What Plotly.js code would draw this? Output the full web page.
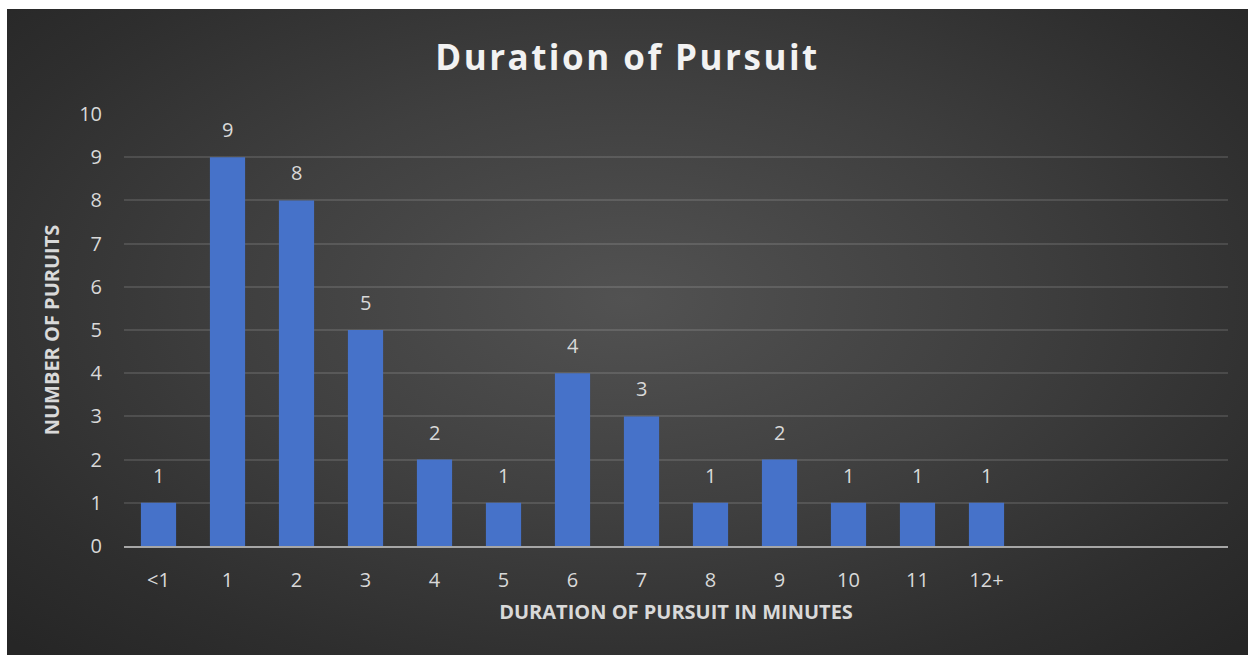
<!DOCTYPE html>
<html>
<head>
<meta charset="utf-8">
<script src="https://cdn.plot.ly/plotly-3.0.1.min.js"></script>
<style>
  html, body { margin: 0; padding: 0; background: #ffffff; width: 1248px; height: 655px; overflow: hidden; }
  #chart {
    position: absolute; left: 7px; top: 9px; width: 1241px; height: 646px;
    background: radial-gradient(ellipse 70% 75% at 50% 45%, #525252 0%, #3f3f3f 45%, #2e2e2e 80%, #262626 100%);
  }
  .gtitle { letter-spacing: 2.5px; }
</style>
</head>
<body>
<div id="chart"></div>
<script>
const categories = ["<1", "1", "2", "3", "4", "5", "6", "7", "8", "9", "10", "11", "12+", " ", "  ", "   "];
const pursuits = [1, 9, 8, 5, 2, 1, 4, 3, 1, 2, 1, 1, 1, null, null, null];
const yTicks = [0, 1, 2, 3, 4, 5, 6, 7, 8, 9, 10];

const FONT = "Open Sans, sans-serif";
const LABEL = "#d9d9d9";

const trace = {
  type: "bar",
  x: categories,
  y: pursuits,
  marker: { color: "#4672c9", line: { width: 0 } },
  hoverinfo: "skip"
};

const valueLabels = categories
  .map((c, i) => ({ c, v: pursuits[i] }))
  .filter(d => d.v !== null)
  .map(d => ({
    x: d.c, y: d.v, xref: "x", yref: "y",
    text: String(d.v), showarrow: false,
    yanchor: "bottom", yshift: 12,
    font: { family: FONT, size: 20, color: LABEL }
  }));

const layout = {
  width: 1241,
  height: 646,
  paper_bgcolor: "rgba(0,0,0,0)",
  plot_bgcolor: "rgba(0,0,0,0)",
  margin: { l: 117, r: 20, t: 105, b: 109 },
  bargap: 0.49,
  showlegend: false,
  annotations: valueLabels,
  title: {
    text: "<b>Duration of Pursuit</b>",
    x: 0.5, xanchor: "center", xref: "container",
    y: 0.925, yanchor: "middle", yref: "container",
    font: { family: FONT, size: 35, color: "#f2f2f2" }
  },
  xaxis: {
    type: "category",
    tickfont: { family: FONT, size: 20, color: LABEL },
    ticks: "",
    ticklabelstandoff: 15,
    showgrid: false,
    showline: true,
    linecolor: "#a6a6a6",
    linewidth: 2,
    title: {
      text: "<b>DURATION OF PURSUIT IN MINUTES</b>",
      font: { family: FONT, size: 20, color: LABEL },
      standoff: 13
    }
  },
  yaxis: {
    range: [0, 10],
    tickvals: yTicks,
    ticktext: yTicks.map(String),
    tickfont: { family: FONT, size: 20, color: LABEL },
    ticks: "",
    ticklabelstandoff: 21,
    showgrid: true,
    gridcolor: "rgba(255,255,255,0.12)",
    gridwidth: 2,
    zeroline: false,
    showline: false,
    title: {
      text: "<b>NUMBER OF PURUITS</b>",
      font: { family: FONT, size: 20, color: LABEL },
      standoff: 14
    }
  }
};

Plotly.newPlot("chart", [trace], layout, { displayModeBar: false, staticPlot: true });
</script>
</body>
</html>
